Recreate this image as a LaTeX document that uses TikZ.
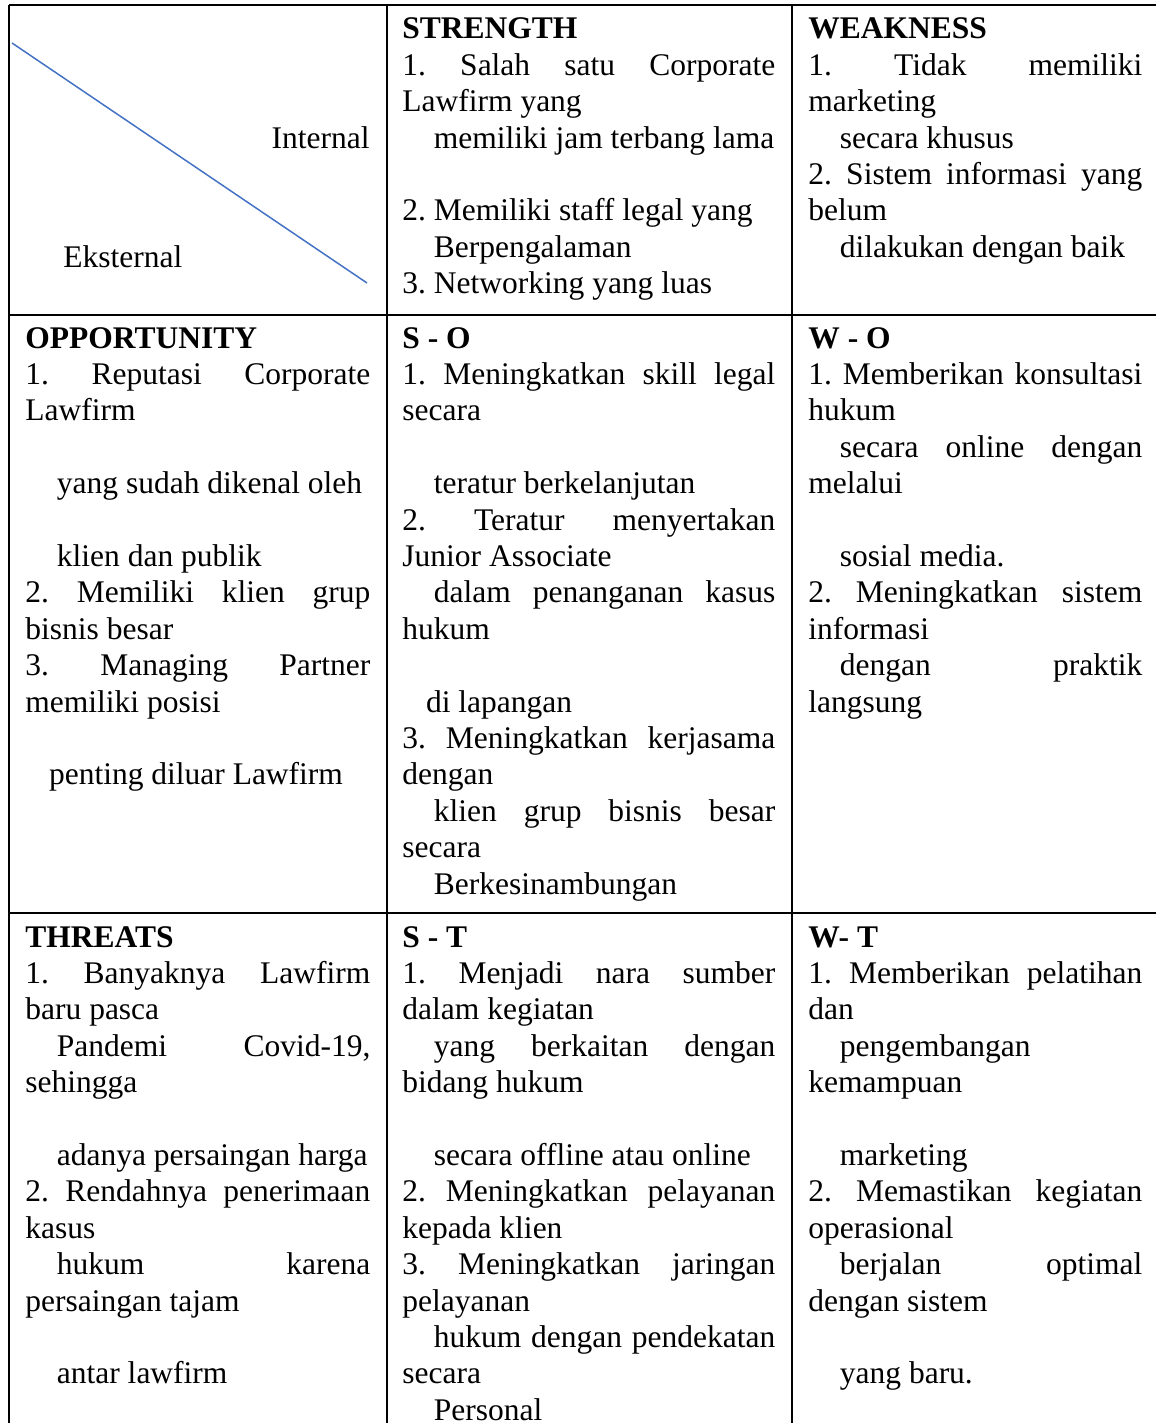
\documentclass[tikz,border=0pt]{standalone}
\usepackage{fontspec}
\setmainfont{Liberation Serif}
\definecolor{diagblue}{RGB}{68,114,196}
\newcommand{\cw}{170pt}
\newcommand{\cellsetup}[1]{\renewcommand{\cw}{#1}\spaceskip=0pt\xspaceskip=0pt\relax}
\newcommand{\jline}[1]{\makebox[\cw][s]{\spaceskip=0.25em plus 1fil\relax #1}}
\newcommand{\ind}{\hspace*{1em}}
\newcommand{\sind}{\hspace*{0.75em}}
\begin{document}
\begin{tikzpicture}[x=0.5pt,y=-0.5pt,
  grid line/.style={draw=black,line width=1pt},
  diag line/.style={draw=diagblue,line width=0.75pt},
  cell text/.style={anchor=base west,inner sep=0pt,align=left,text width=200pt,
    font=\fontsize{15.75pt}{18.2pt}\selectfont\frenchspacing},
  col a/.style={cell text,execute at begin node={\cellsetup{172.5pt}}},
  col b/.style={cell text,execute at begin node={\cellsetup{186.5pt}}},
  col c/.style={cell text,execute at begin node={\cellsetup{167pt}}}]
  \useasboundingbox (0,0) rectangle (1156,1423);
%grid
  \draw[grid line] (9,5) -- (1156,5);
  \draw[grid line] (9,315) -- (1156,315);
  \draw[grid line] (9,913) -- (1156,913);
  \draw[grid line] (9,5) -- (9,1423);
  \draw[grid line] (387,5) -- (387,1423);
  \draw[grid line] (792,5) -- (792,1423);
%corner
  \coordinate (dstart) at (12,43);
  \coordinate (dend) at (367,283);
  \draw[diag line] (dstart) -- (dend);
  \node[cell text,text width=,anchor=base east] (internal) at (370,149) {Internal};
  \node[cell text] (eksternal) at (63,267) {Eksternal};
%strength
  \node[col b] (strength) at (402,39) {\textbf{STRENGTH}\\
    \jline{1. Salah satu Corporate}\\
    Lawfirm yang\\
    \ind memiliki jam terbang lama\\
    \mbox{}\\
    2. Memiliki staff legal yang\\
    \ind Berpengalaman\\
    3. Networking yang luas};
%weakness
  \node[col c] (weakness) at (808,39) {\textbf{WEAKNESS}\\
    \jline{1. Tidak memiliki}\\
    marketing\\
    \ind secara khusus\\
    \jline{2. Sistem informasi yang}\\
    belum\\
    \ind dilakukan dengan baik};
%opportunity
  \node[col a] (opportunity) at (25,348) {\textbf{OPPORTUNITY}\\
    \jline{1. Reputasi Corporate}\\
    Lawfirm\\
    \mbox{}\\
    \ind yang sudah dikenal oleh\\
    \mbox{}\\
    \ind klien dan publik\\
    \jline{2. Memiliki klien grup}\\
    bisnis besar\\
    \jline{3. Managing Partner}\\
    memiliki posisi\\
    \mbox{}\\
    \sind penting diluar Lawfirm};
%s-o
  \node[col b] (so) at (402,348) {\textbf{S - O}\\
    \jline{1. Meningkatkan skill legal}\\
    secara\\
    \mbox{}\\
    \ind teratur berkelanjutan\\
    \jline{2. Teratur menyertakan}\\
    Junior Associate\\
    \jline{\ind dalam penanganan kasus}\\
    hukum\\
    \mbox{}\\
    \sind di lapangan\\
    \jline{3. Meningkatkan kerjasama}\\
    dengan\\
    \jline{\ind klien grup bisnis besar}\\
    secara\\
    \ind Berkesinambungan};
%w-o
  \node[col c] (wo) at (808,348) {\textbf{W - O}\\
    \jline{1. Memberikan konsultasi}\\
    hukum\\
    \jline{\ind secara online dengan}\\
    melalui\\
    \mbox{}\\
    \ind sosial media.\\
    \jline{2. Meningkatkan sistem}\\
    informasi\\
    \jline{\ind dengan praktik}\\
    langsung};
%threats
  \node[col a] (threats) at (25,947) {\textbf{THREATS}\\
    \jline{1. Banyaknya Lawfirm}\\
    baru pasca\\
    \jline{\ind Pandemi Covid-19,}\\
    sehingga\\
    \mbox{}\\
    \ind adanya persaingan harga\\
    \jline{2. Rendahnya penerimaan}\\
    kasus\\
    \jline{\ind hukum karena}\\
    persaingan tajam\\
    \mbox{}\\
    \ind antar lawfirm};
%s-t
  \node[col b] (st) at (402,947) {\textbf{S - T}\\
    \jline{1. Menjadi nara sumber}\\
    dalam kegiatan\\
    \jline{\ind yang berkaitan dengan}\\
    bidang hukum\\
    \mbox{}\\
    \ind secara offline atau online\\
    \jline{2. Meningkatkan pelayanan}\\
    kepada klien\\
    \jline{3. Meningkatkan jaringan}\\
    pelayanan\\
    \jline{\ind hukum dengan pendekatan}\\
    secara\\
    \ind Personal};
%w-t
  \node[col c] (wt) at (808,947) {\textbf{W- T}\\
    \jline{1. Memberikan pelatihan}\\
    dan\\
    \ind pengembangan\\
    kemampuan\\
    \mbox{}\\
    \ind marketing\\
    \jline{2. Memastikan kegiatan}\\
    operasional\\
    \jline{\ind berjalan optimal}\\
    dengan sistem\\
    \mbox{}\\
    \ind yang baru.};
\end{tikzpicture}
\end{document}
